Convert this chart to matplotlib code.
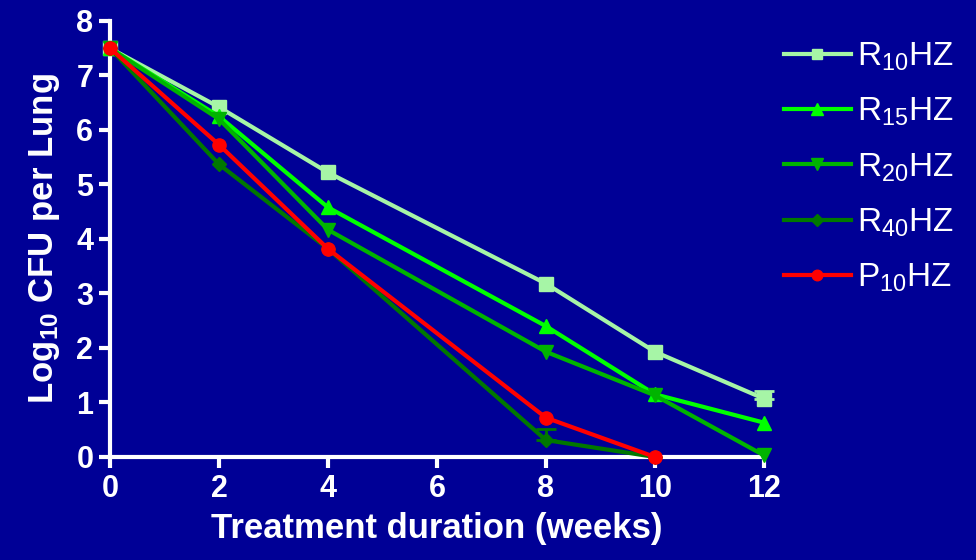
import matplotlib.pyplot as plt
import numpy as np

plt.rcParams['mathtext.fontset'] = 'custom'
plt.rcParams['mathtext.rm'] = 'Liberation Sans'
plt.rcParams['mathtext.bf'] = 'Liberation Sans:bold'
plt.rcParams['mathtext.default'] = 'regular'

weeks = [0, 2, 4, 8, 10, 12]
r10 = [7.5, 6.42, 5.22, 3.18, 1.93, 1.07]
r15 = [7.5, 6.25, 4.58, 2.40, 1.15, 0.63]
r20 = [7.5, 6.20, 4.17, 1.93, 1.13, 0.03]
r40 = [7.5, 5.37, 3.82, 0.31, 0.0, np.nan]
p10 = [7.5, 5.73, 3.82, 0.72, 0.0, np.nan]

# upper error bars seen on two points: (week, value, upper error)
r10_err = (12, 1.07, 0.14)
r40_err = (8, 0.31, 0.2)

labels = ['R$_{10}$HZ', 'R$_{15}$HZ', 'R$_{20}$HZ', 'R$_{40}$HZ', 'P$_{10}$HZ']
colors = ['#a6f5a6', '#00ff00', '#00b400', '#007800', '#ff0000']
markers = ['s', '^', 'v', 'D', 'o']
sizes = [9.5, 10, 10, 7.5, 9.5]

bg = '#000096'
fig = plt.figure(figsize=(9.76, 5.6), dpi=100, facecolor=bg)
ax = fig.add_axes([0.1127, 0.184, 0.67, 0.7785], facecolor=bg)

series = [r10, r15, r20, r40, p10]
errs = [r10_err, None, None, r40_err, None]
for i, ys in enumerate(series):
    if errs[i] is not None:
        wx, wy, e = errs[i]
        ax.errorbar([wx], [wy], yerr=[[0], [e]], fmt='none',
                    ecolor=colors[i], elinewidth=2, capsize=7, capthick=2,
                    clip_on=False, zorder=2 + i)
    ax.plot(weeks, ys, color=colors[i], lw=3, marker=markers[i], ms=sizes[i],
            label=labels[i], clip_on=False, zorder=3 + i)

ax.set_xlim(0, 12)
ax.set_ylim(0, 8)
ax.set_xticks(range(0, 13, 2))
ax.set_yticks(range(0, 9))

for s in ['top', 'right']:
    ax.spines[s].set_visible(False)
for s in ['left', 'bottom']:
    ax.spines[s].set_color('white')
    ax.spines[s].set_linewidth(3)
ax.tick_params(colors='white', width=3, length=8, direction='out', pad=4)

tick_font = ['Liberation Sans Narrow', 'Liberation Sans']
for lab in ax.get_xticklabels() + ax.get_yticklabels():
    lab.set_family(tick_font)
    lab.set_fontweight('bold')
    lab.set_fontsize(22)
    lab.set_color('white')

ax.set_xlabel('Treatment duration (weeks)', color='white', fontsize=25,
              fontweight='bold', family=tick_font, labelpad=6)
ax.set_ylabel('Log$_{10}$ CFU per Lung', color='white', fontsize=25,
              fontweight='bold', family=['Liberation Sans'], labelpad=10)

leg = ax.legend(loc='upper left', bbox_to_anchor=(1.0, 1.0), frameon=False,
                handlelength=2.0, labelspacing=0.68, handletextpad=0.2,
                borderaxespad=0.2, markerscale=0.8,
                prop={'family': 'Liberation Sans', 'size': 24})
for t in leg.get_texts():
    t.set_color('white')

fig.savefig('out.png', dpi=100, facecolor=bg)
